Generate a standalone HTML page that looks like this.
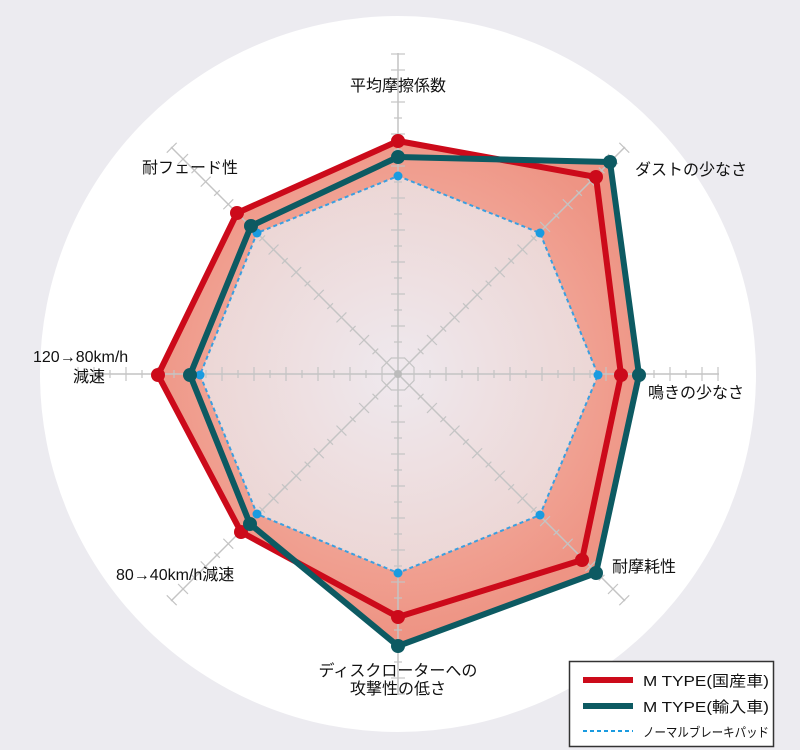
<!DOCTYPE html>
<html><head><meta charset="utf-8"><style>
body{margin:0;background:#ecebf0;}
svg{display:block}
text{font-family:"Liberation Sans","Noto Sans CJK JP",sans-serif;fill:#111;}
</style></head><body>
<svg width="800" height="750" viewBox="0 0 800 750">
<defs>
<radialGradient id="rg" cx="398" cy="374" r="260" gradientUnits="userSpaceOnUse">
<stop offset="0" stop-color="#f6c2b6"/><stop offset="1" stop-color="#ee9484"/></radialGradient>
<radialGradient id="ig" cx="398" cy="374" r="220" gradientUnits="userSpaceOnUse">
<stop offset="0" stop-color="#efe9ee"/><stop offset="1" stop-color="#ecd4d2"/></radialGradient>
</defs>
<rect width="800" height="750" fill="#ecebf0"/>
<circle cx="398" cy="374" r="358" fill="#fff"/>
<polygon points="398,157 610,162 639,375 596,573 398,646 250,524 190,375 251,226" fill="url(#rg)"/>
<polygon points="398,141 596,177 621,375 582,560 398,617 241,532 158,375 237,213" fill="url(#rg)"/>
<polygon points="398,176 540,233 598,375 540,515 398,573 257,514 200,375 257,233" fill="url(#ig)"/>
<g id="ax" stroke="#c4c4c4" stroke-width="1.5">
<line x1="398" y1="374" x2="398" y2="53"/>
<g stroke-width="1.2">
<line x1="391" y1="358" x2="405" y2="358"/><line x1="394" y1="342" x2="402" y2="342"/>
<line x1="391" y1="326" x2="405" y2="326"/><line x1="394" y1="310" x2="402" y2="310"/>
<line x1="391" y1="294" x2="405" y2="294"/><line x1="394" y1="278" x2="402" y2="278"/>
<line x1="391" y1="262" x2="405" y2="262"/><line x1="394" y1="246" x2="402" y2="246"/>
<line x1="391" y1="230" x2="405" y2="230"/><line x1="394" y1="214" x2="402" y2="214"/>
<line x1="391" y1="198" x2="405" y2="198"/><line x1="394" y1="182" x2="402" y2="182"/>
<line x1="391" y1="166" x2="405" y2="166"/><line x1="394" y1="150" x2="402" y2="150"/>
<line x1="391" y1="134" x2="405" y2="134"/><line x1="394" y1="118" x2="402" y2="118"/>
<line x1="391" y1="102" x2="405" y2="102"/><line x1="394" y1="86" x2="402" y2="86"/>
<line x1="391" y1="70" x2="405" y2="70"/><line x1="391" y1="54" x2="405" y2="54"/>
</g></g>
<use href="#ax" transform="rotate(45 398 374)"/>
<use href="#ax" transform="rotate(90 398 374)"/>
<use href="#ax" transform="rotate(135 398 374)"/>
<use href="#ax" transform="rotate(180 398 374)"/>
<use href="#ax" transform="rotate(225 398 374)"/>
<use href="#ax" transform="rotate(270 398 374)"/>
<use href="#ax" transform="rotate(315 398 374)"/>
<circle cx="398" cy="374" r="4" fill="#bbb"/>
<polygon points="398,176 540,233 598,375 540,515 398,573 257,514 200,375 257,233" fill="none" stroke="#3a9fe0" stroke-width="2" stroke-dasharray="4,3"/>
<g fill="#1a9be0"><circle cx="398" cy="176" r="4.5"/><circle cx="540" cy="233" r="4.5"/><circle cx="598" cy="375" r="4.5"/><circle cx="540" cy="515" r="4.5"/><circle cx="398" cy="573" r="4.5"/><circle cx="257" cy="514" r="4.5"/><circle cx="200" cy="375" r="4.5"/><circle cx="257" cy="233" r="4.5"/></g>
<polygon points="398,141 596,177 621,375 582,560 398,617 241,532 158,375 237,213" fill="none" stroke="#cc0a1a" stroke-width="6" stroke-linejoin="round"/>
<polygon points="398,157 610,162 639,375 596,573 398,646 250,524 190,375 251,226" fill="none" stroke="#0d5a62" stroke-width="6" stroke-linejoin="round"/>
<g fill="#cc0a1a"><circle cx="398" cy="141" r="7"/><circle cx="596" cy="177" r="7"/><circle cx="621" cy="375" r="7"/><circle cx="582" cy="560" r="7"/><circle cx="398" cy="617" r="7"/><circle cx="241" cy="532" r="7"/><circle cx="158" cy="375" r="7"/><circle cx="237" cy="213" r="7"/></g>
<g fill="#0d5a62"><circle cx="398" cy="157" r="7"/><circle cx="610" cy="162" r="7"/><circle cx="639" cy="375" r="7"/><circle cx="596" cy="573" r="7"/><circle cx="398" cy="646" r="7"/><circle cx="250" cy="524" r="7"/><circle cx="190" cy="375" r="7"/><circle cx="251" cy="226" r="7"/></g>
<g font-size="16">
<text x="398" y="91" text-anchor="middle">平均摩擦係数</text>
<text x="635" y="175">ダストの少なさ</text>
<text x="648" y="398">鳴きの少なさ</text>
<text x="612" y="572">耐摩耗性</text>
<text x="398" y="676" text-anchor="middle">ディスクローターへの</text>
<text x="398" y="694" text-anchor="middle">攻撃性の低さ</text>
<text x="116" y="580">80→40km/h減速</text>
<text x="33" y="362">120→80km/h</text>
<text x="73" y="382">減速</text>
<text x="142" y="173">耐フェード性</text>
</g>
<rect x="569.5" y="661.5" width="204" height="85" fill="#fff" stroke="#333" stroke-width="1.5"/>
<line x1="583" y1="680" x2="633" y2="680" stroke="#cc0a1a" stroke-width="6"/>
<line x1="583" y1="706" x2="633" y2="706" stroke="#0d5a62" stroke-width="6"/>
<line x1="583" y1="731" x2="633" y2="731" stroke="#1a9be0" stroke-width="2" stroke-dasharray="4,3"/>
<g font-size="15"><text x="643" y="686" textLength="126" lengthAdjust="spacingAndGlyphs">M TYPE(国産車)</text><text x="643" y="712" textLength="126" lengthAdjust="spacingAndGlyphs">M TYPE(輸入車)</text></g>
<text x="643" y="737" font-size="13" textLength="126" lengthAdjust="spacingAndGlyphs">ノーマルブレーキパッド</text>
</svg>
</body></html>
